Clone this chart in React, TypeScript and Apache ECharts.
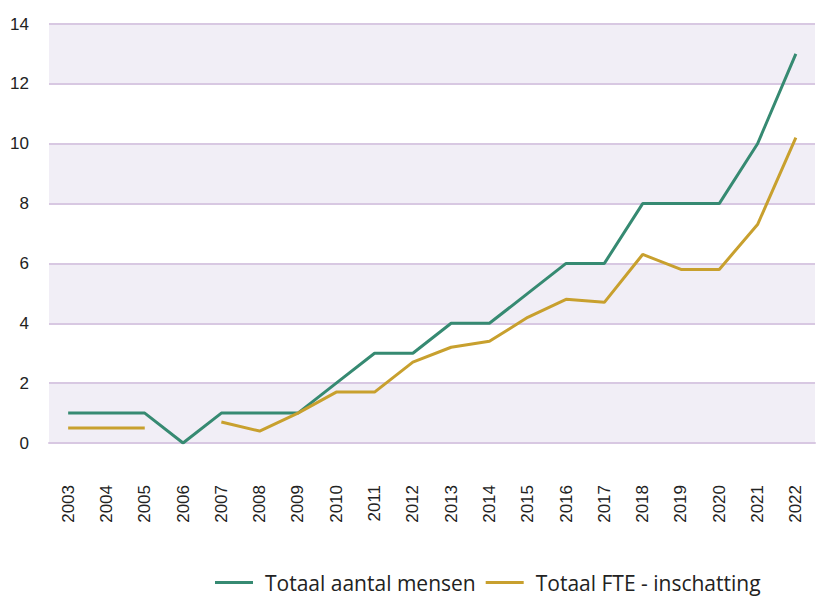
import React, { useEffect, useRef } from "react";
import * as echarts from "echarts";

const years = ["2003","2004","2005","2006","2007","2008","2009","2010","2011","2012","2013","2014","2015","2016","2017","2018","2019","2020","2021","2022"];
const totaalMensen = [1, 1, 1, 0, 1, 1, 1, 2, 3, 3, 4, 4, 5, 6, 6, 8, 8, 8, 10, 13];
const totaalFTE: (number | null)[] = [0.5, 0.5, 0.5, null, 0.7, 0.4, 1.0, 1.7, 1.7, 2.7, 3.2, 3.4, 4.2, 4.8, 4.7, 6.3, 5.8, 5.8, 7.3, 10.2];
const seriesNames = ["Totaal aantal mensen", "Totaal FTE - inschatting"];

export default function App() {
  const ref = useRef<HTMLDivElement>(null);
  useEffect(() => {
    if (!ref.current) return;
    const chart = echarts.init(ref.current, undefined, { renderer: "svg" });
    chart.setOption({
      animation: false,
      grid: { left: 49, right: 3, top: 24, bottom: 154, containLabel: false },
      legend: {
        data: seriesNames,
        left: 210,
        top: 567,
        itemGap: 10,
        itemWidth: 38,
        itemHeight: 3,
        icon: "rect",
        textStyle: { fontFamily: "Open Sans", fontSize: 21, color: "#222", padding: [0, 0, 0, 7] },
      },
      xAxis: {
        type: "category",
        data: years,
        boundaryGap: true,
        axisLine: { lineStyle: { color: "#d8c8e2", width: 2 } },
        axisTick: { alignWithLabel: true, length: 12, lineStyle: { color: "#d8c8e2", width: 2 } },
        axisLabel: {
          rotate: 90,
          margin: 42,
          fontFamily: "Liberation Sans",
          fontSize: 17,
          color: "#222",
          interval: 0,
        },
      },
      yAxis: {
        type: "value",
        min: 0,
        max: 14,
        interval: 2,
        axisLine: { show: false },
        axisTick: { show: false },
        axisLabel: { fontFamily: "Liberation Sans", fontSize: 17, color: "#222", margin: 20, padding: [0, 0, 5, 0] },
        splitLine: { lineStyle: { color: "#d8c8e2", width: 2 } },
        splitArea: { show: true, areaStyle: { color: ["#f1eef6", "#ffffff"] } },
      },
      series: [
        {
          name: seriesNames[0],
          type: "line",
          data: totaalMensen,
          symbol: "none",
          lineStyle: { color: "#368a72", width: 3 },
          itemStyle: { color: "#368a72" },
        },
        {
          name: seriesNames[1],
          type: "line",
          data: totaalFTE,
          symbol: "none",
          connectNulls: false,
          lineStyle: { color: "#c8a02e", width: 3 },
          itemStyle: { color: "#c8a02e" },
        },
      ],
    });
    return () => chart.dispose();
  }, []);
  return <div ref={ref} style={{ width: 818, height: 597, position: "absolute", left: 0, top: 0 }} />;
}
